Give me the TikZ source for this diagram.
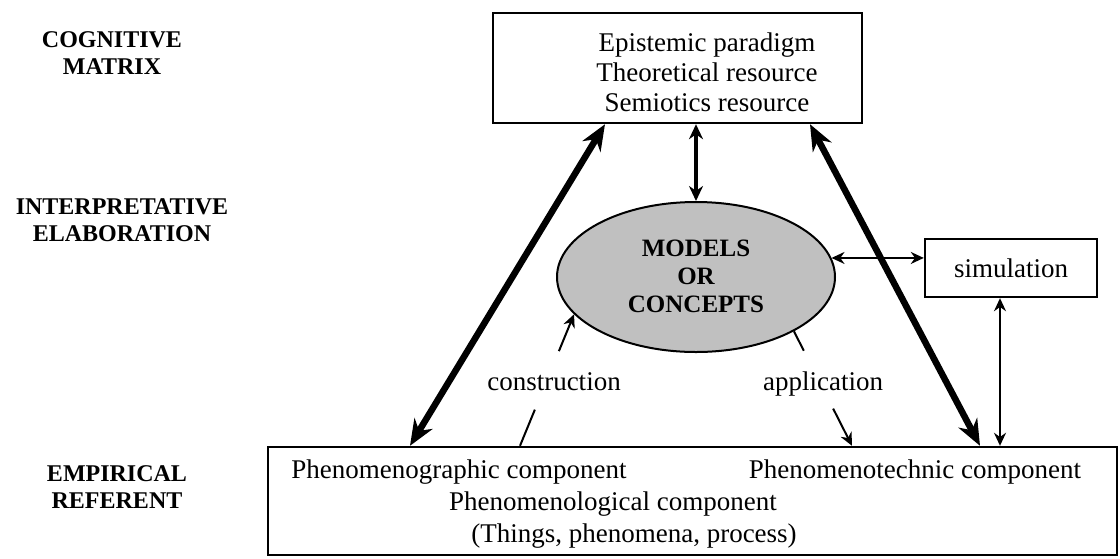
\documentclass[tikz,border=0pt]{standalone}
\usepackage{fontspec}
\setmainfont{Liberation Serif}
\usetikzlibrary{arrows.meta,shapes.geometric,calc}
\definecolor{ellfill}{RGB}{192,192,192}
\begin{document}
\begin{tikzpicture}[x=1pt,y=-1pt,
  box/.style={draw, line width=2.4pt, inner sep=0pt},
  txt/.style={font=\fontsize{27}{30}\selectfont, align=center, inner sep=0pt},
  lab/.style={font=\fontsize{24}{27}\selectfont\bfseries, align=center, inner sep=0pt},
  bigarr/.style={line width=6.5pt, {Stealth[length=26pt,width=21pt]}-{Stealth[length=26pt,width=21pt]}},
  midarr/.style={line width=4.5pt, {Stealth[length=15pt,width=14pt]}-{Stealth[length=15pt,width=14pt]}},
  thinline/.style={line width=2pt},
  thinarr/.style={line width=2pt, {Stealth[length=13pt,width=12pt]}-{Stealth[length=13pt,width=12pt]}},
  onearr/.style={line width=2pt, -{Stealth[length=13pt,width=12pt]}}
]
\useasboundingbox (0,0) rectangle (1120,558);

% side labels
\node[lab] (cm) at (112,53) {COGNITIVE\\MATRIX};
\node[lab] (ie) at (122,220) {INTERPRETATIVE\\ELABORATION};
\node[lab] (er) at (117,487) {EMPIRICAL\\REFERENT};

% boxes
\node[box, minimum width=369pt, minimum height=110pt] (top) at (677.5,68) {};
\node[txt] (toptext) at (707,72) {Epistemic paradigm\\Theoretical resource\\Semiotics resource};

\node[ellipse, draw, line width=2pt, fill=ellfill, minimum width=278pt, minimum height=150pt, inner sep=0pt] (ell) at (696,277) {};
\node[font=\fontsize{25}{28}\selectfont\bfseries, align=center, inner sep=0pt] (elltext) at (696,276) {MODELS\\OR\\CONCEPTS};

\node[box, minimum width=172pt, minimum height=58pt, font=\fontsize{27}{30}\selectfont] (sim) at (1011,268) {simulation};

\node[box, minimum width=849pt, minimum height=108pt] (bot) at (692.5,501) {};
\node[txt] (pg) at (459,472) {Phenomenographic component};
\node[txt] (pt) at (915,472) {Phenomenotechnic component};
\node[txt] (pl) at (613,504) {Phenomenological component};
\node[txt] (tpp) at (634,536) {(Things, phenomena, process)};

\node[txt, anchor=base] (cons) at (554,390) {construction};
\node[txt, anchor=base] (app) at (823,390) {application};

% thick arrows
\draw[bigarr] (top.south -| 605,0) -- (bot.north -| 410,0);
\draw[bigarr] (top.south -| 810,0) -- (bot.north -| 980,0);
\draw[midarr] (top.south -| ell.north) -- (ell.north);

% simulation arrows
\draw[thinarr] (ell.8) -- (ell.8 -| sim.west);
\draw[thinarr] ([xshift=-11pt]sim.south) -- ([xshift=-11pt]sim.south |- bot.north);

% construction
\coordinate (c0) at (bot.north -| 520,0);
\coordinate (c1) at (ell.197);
\draw[thinline] (c0) -- ($(c0)!0.275!(c1)$);
\draw[onearr] ($(c0)!0.72!(c1)$) -- (c1);

% application
\coordinate (a0) at (ell.-29);
\coordinate (a1) at (bot.north -| 852,0);
\draw[thinline] (a0) -- ($(a0)!0.17!(a1)$);
\draw[onearr] ($(a0)!0.675!(a1)$) -- (a1);
\end{tikzpicture}
\end{document}
